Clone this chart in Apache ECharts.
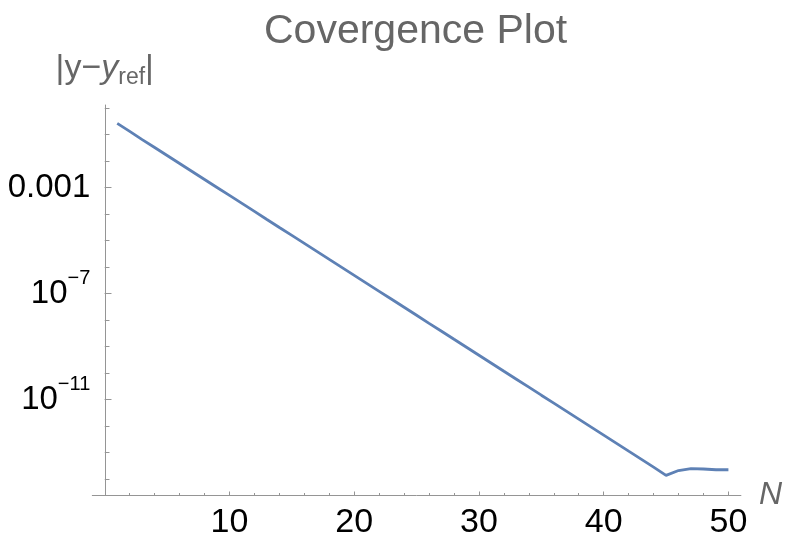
<!DOCTYPE html>
<html>
<head>
<meta charset="utf-8">
<script src="https://cdn.jsdelivr.net/npm/echarts@6/dist/echarts.min.js"></script>
<style>html,body{margin:0;padding:0;background:#fff;}#c{width:785px;height:540px;}</style>
</head>
<body>
<div id="c"></div>
<script>
// Data
var nValues = [1,2,3,4,5,6,7,8,9,10,11,12,13,14,15,16,17,18,19,20,21,22,23,24,25,26,27,28,29,30,31,32,33,34,35,36,37,38,39,40,41,42,43,44,45,46,47,48,49,50];
var errValues = [2.6e-1,1.3e-1,6.4e-2,3.2e-2,1.6e-2,8.0e-3,4.0e-3,2.0e-3,1.0e-3,5.0e-4,
  2.5e-4,1.25e-4,6.2e-5,3.1e-5,1.56e-5,7.8e-6,3.9e-6,1.94e-6,9.7e-7,4.85e-7,
  2.42e-7,1.21e-7,6.05e-8,3.02e-8,1.51e-8,7.5e-9,3.77e-9,1.88e-9,9.4e-10,4.7e-10,
  2.35e-10,1.17e-10,5.86e-11,2.93e-11,1.46e-11,7.3e-12,3.65e-12,1.82e-12,9.1e-13,4.55e-13,
  2.27e-13,1.13e-13,5.67e-14,2.83e-14,1.38e-14,2.1e-14,2.5e-14,2.4e-14,2.25e-14,2.25e-14];
var xTickValues = [10,20,30,40,50];
var yLabelValues = [1e-3, 1e-7, 1e-11];
var yTickDecades = [-14,-13,-12,-11,-10,-9,-8,-7,-6,-5,-4,-3,-2,-1,0];
var xRange = [-1, 51];
var yRangeLog = [-14.6, 0.11];

var FONT = 'Liberation Sans, Arial, Helvetica, sans-serif';
var AXIS_COLOR = '#959595';
var TEXT_GRAY = '#666666';

var seriesData = nValues.map(function (n, i) { return [n, Math.log10(errValues[i])]; });
var yLabelExps = yLabelValues.map(function (v) { return Math.round(Math.log10(v)); });

function yLabel(v) {
  var k = Math.round(v);
  if (k === -3) return '0.001';
  return '{b|10}{s|\u2212' + (-k) + '}';
}

var chart = echarts.init(document.getElementById('c'), null, {renderer: 'canvas'});
chart.setOption({
  animation: false,
  backgroundColor: '#ffffff',
  title: {
    text: 'Covergence Plot',
    left: 264, top: 11, padding: 0,
    textStyle: {fontFamily: FONT, fontSize: 41, fontWeight: 'normal', color: TEXT_GRAY}
  },
  grid: {left: 92.3, right: 43.2, top: 105, bottom: 42.3, containLabel: false},
  xAxis: {
    type: 'value',
    min: xRange[0], max: xRange[1],
    minInterval: 10, maxInterval: 10,
    name: 'N',
    nameLocation: 'end',
    nameGap: 18,
    nameTextStyle: {fontFamily: FONT, fontSize: 32, fontStyle: 'italic', color: TEXT_GRAY},
    axisLine: {onZero: false, lineStyle: {color: AXIS_COLOR, width: 1}},
    axisTick: {inside: true, length: 3.5, customValues: xTickValues, lineStyle: {color: AXIS_COLOR}},
    minorTick: {show: true, splitNumber: 5, length: 2, lineStyle: {color: AXIS_COLOR}},
    axisLabel: {
      customValues: xTickValues,
      fontFamily: FONT, fontSize: 34, color: '#000', margin: 11,
      formatter: function (v) { return xTickValues.indexOf(Math.round(v)) >= 0 ? String(Math.round(v)) : ''; }
    },
    splitLine: {show: false}
  },
  yAxis: [{
    type: 'value',
    min: yRangeLog[0], max: yRangeLog[1],
    minInterval: 1, maxInterval: 1,
    name: '{n||y\u2212}{i|y}{r|ref}{n||}',
    nameLocation: 'end',
    nameGap: 16,
    nameTextStyle: {
      fontFamily: FONT, fontSize: 34, color: TEXT_GRAY,
      rich: {
        n: {fontFamily: FONT, fontSize: 34, color: TEXT_GRAY, lineHeight: 40, verticalAlign: 'middle'},
        i: {fontFamily: FONT, fontSize: 34, color: TEXT_GRAY, fontStyle: 'italic', lineHeight: 40, verticalAlign: 'middle'},
        r: {fontFamily: FONT, fontSize: 23, color: TEXT_GRAY, verticalAlign: 'bottom'}
      }
    },
    axisLine: {onZero: true, lineStyle: {color: AXIS_COLOR, width: 1}},
    axisTick: {inside: true, length: 4.7, customValues: yTickDecades, lineStyle: {color: AXIS_COLOR}},
    axisLabel: {
      customValues: yLabelExps,
      fontFamily: FONT, fontSize: 33, color: '#000', margin: 2,
      formatter: yLabel,
      rich: {
        b: {fontFamily: FONT, fontSize: 33, color: '#000', lineHeight: 50, verticalAlign: 'middle'},
        s: {fontFamily: FONT, fontSize: 20, color: '#000', verticalAlign: 'top'}
      }
    },
    splitLine: {show: false}
  }, {
    type: 'value',
    min: yRangeLog[0], max: yRangeLog[1],
    minInterval: 1, maxInterval: 1,
    position: 'left',
    offset: -12.49,
    axisLine: {show: false, onZero: false},
    axisTick: {show: true, inside: true, length: 6.7, customValues: yLabelExps, lineStyle: {color: AXIS_COLOR}},
    axisLabel: {show: false},
    splitLine: {show: false}
  }],
  series: [{
    type: 'line',
    data: seriesData,
    xAxisIndex: 0,
    yAxisIndex: 0,
    showSymbol: false,
    symbol: 'none',
    lineStyle: {color: '#5E81B5', width: 2.8},
    itemStyle: {color: '#5E81B5'}
  }]
});
</script>
</body>
</html>
